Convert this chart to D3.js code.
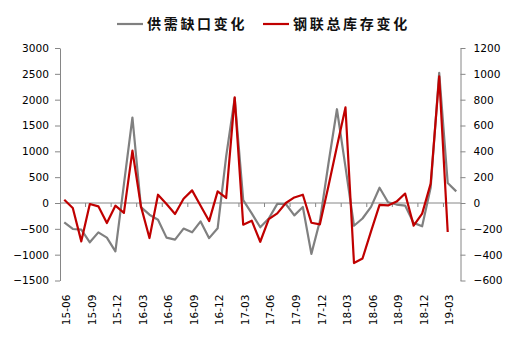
<!DOCTYPE html>
<html>
<head>
<meta charset="utf-8">
<script src="https://cdn.jsdelivr.net/npm/d3@7/dist/d3.min.js"></script>
<style>
  html, body { margin: 0; padding: 0; background: #fff; }
  svg { display: block; }
  .tick-label { font-family: "DejaVu Sans", Verdana, sans-serif; font-size: 10.6px; fill: #000; }
  .legend-text { font-family: "Noto Sans CJK SC", sans-serif; font-weight: 700; font-size: 14px; letter-spacing: 2.7px; fill: #111; }
</style>
</head>
<body>
<svg id="chart" width="516" height="340"></svg>
<script>
// Monthly categories, 2015-06 through 2019-04
const categories = [
  "15-06","15-07","15-08","15-09","15-10","15-11","15-12",
  "16-01","16-02","16-03","16-04","16-05","16-06","16-07","16-08","16-09","16-10","16-11","16-12",
  "17-01","17-02","17-03","17-04","17-05","17-06","17-07","17-08","17-09","17-10","17-11","17-12",
  "18-01","18-02","18-03","18-04","18-05","18-06","18-07","18-08","18-09","18-10","18-11","18-12",
  "19-01","19-02","19-03","19-04"
];

// Labels shown on the category axis
const xTickLabels = ["15-06","15-09","15-12","16-03","16-06","16-09","16-12","17-03",
  "17-06","17-09","17-12","18-03","18-06","18-09","18-12","19-03"];

// 供需缺口变化 (left axis)
const supplyGap = [
  -375, -503, -517, -760, -568, -670, -937,
  360, 1655, -80, -226, -323, -670, -710, -495, -568, -356, -680, -490,
  900, 2030, 55, -200, -470, -300, -17, -19, -240, -77, -985, -350,
  760, 1815, 700, -440, -300, -75, 295, 15, -30, -50, -385, -450,
  300, 2520, 387, 225
];

// 钢联总库存变化 (right axis); no value for the last month
const inventory = [
  25, -39, -297, -8, -26, -155, -21,
  -77, 405, -26, -271, 64, -8, -85, 33, 98, -21, -140, 90,
  39, 818, -168, -137, -300, -125, -80, 0, 43, 64, -153, -165,
  130, 438, 740, -465, -430, -220, -14, -19, 11, 73, -175, -82,
  150, 980, -225, null
];

const leftTicks = [-1500, -1000, -500, 0, 500, 1000, 1500, 2000, 2500, 3000];
const rightTicks = [-600, -400, -200, 0, 200, 400, 600, 800, 1000, 1200];

const seriesNames = ["供需缺口变化", "钢联总库存变化"];
const seriesColors = ["#808080", "#C00000"];

const svg = d3.select("#chart");
const margin = { left: 60, right: 460.5, top: 48, bottom: 280.5 };
const axisColor = "#868686";
const plain = d3.format("d");

const x = d3.scaleBand().domain(categories).range([margin.left, margin.right]).padding(0);
const yL = d3.scaleLinear().domain([-1500, 3000]).range([margin.bottom, margin.top]);
const yR = d3.scaleLinear().domain([-600, 1200]).range([margin.bottom, margin.top]);
const cx = c => x(c) + x.bandwidth() / 2;

// Left value axis
const leftAxis = svg.append("g").attr("transform", `translate(${margin.left},0)`)
  .call(d3.axisLeft(yL).tickValues(leftTicks).tickFormat(plain).tickSize(5).tickSizeOuter(0).tickPadding(6));
leftAxis.select(".domain").attr("stroke", axisColor);
leftAxis.selectAll(".tick line").attr("stroke", axisColor);
leftAxis.selectAll(".tick text").attr("class", "tick-label").attr("font-family", null).attr("font-size", null);

// Right value axis
const rightAxis = svg.append("g").attr("transform", `translate(${margin.right},0)`)
  .call(d3.axisRight(yR).tickValues(rightTicks).tickFormat(plain).tickSize(5).tickSizeOuter(0).tickPadding(8));
rightAxis.select(".domain").attr("stroke", axisColor);
rightAxis.selectAll(".tick line").attr("stroke", axisColor);
rightAxis.selectAll(".tick text").attr("class", "tick-label").attr("font-family", null).attr("font-size", null);

// Category axis along the zero line, tick marks between every third month
const y0 = yL(0);
svg.append("line")
  .attr("x1", margin.left).attr("x2", margin.right)
  .attr("y1", y0).attr("y2", y0)
  .attr("stroke", axisColor).attr("stroke-width", 1);
const boundaries = categories.map((c, i) => i).filter(i => i > 0 && i % 3 === 0);
svg.append("g").selectAll("line").data(boundaries).join("line")
  .attr("x1", i => x(categories[i])).attr("x2", i => x(categories[i]))
  .attr("y1", y0).attr("y2", y0 + 4)
  .attr("stroke", axisColor).attr("stroke-width", 1);

// Rotated month labels below the plot
svg.append("g").selectAll("text").data(xTickLabels).join("text")
  .attr("class", "tick-label")
  .attr("text-anchor", "end")
  .attr("transform", d => `translate(${cx(d) + 2},${margin.bottom + 14}) rotate(-90)`)
  .attr("dy", "0.35em")
  .text(d => d);

// Series lines
const lineL = d3.line().defined(d => d.v != null).x(d => cx(d.c)).y(d => yL(d.v));
const lineR = d3.line().defined(d => d.v != null).x(d => cx(d.c)).y(d => yR(d.v));

svg.append("path")
  .datum(categories.map((c, i) => ({ c, v: supplyGap[i] })))
  .attr("d", lineL).attr("fill", "none")
  .attr("stroke", seriesColors[0]).attr("stroke-width", 2.2).attr("stroke-linejoin", "round");

svg.append("path")
  .datum(categories.map((c, i) => ({ c, v: inventory[i] })))
  .attr("d", lineR).attr("fill", "none")
  .attr("stroke", seriesColors[1]).attr("stroke-width", 2.2).attr("stroke-linejoin", "round");

// Legend
const legendItems = [
  { name: seriesNames[0], color: seriesColors[0], x: 117 },
  { name: seriesNames[1], color: seriesColors[1], x: 263 }
];
const lg = svg.append("g").selectAll("g").data(legendItems).join("g")
  .attr("transform", d => `translate(${d.x},24)`);
lg.append("line").attr("x1", 0).attr("x2", 26).attr("y1", 0).attr("y2", 0)
  .attr("stroke", d => d.color).attr("stroke-width", 2.2);
lg.append("text").attr("class", "legend-text").attr("x", 30).attr("dy", "0.36em").text(d => d.name);
</script>
</body>
</html>
